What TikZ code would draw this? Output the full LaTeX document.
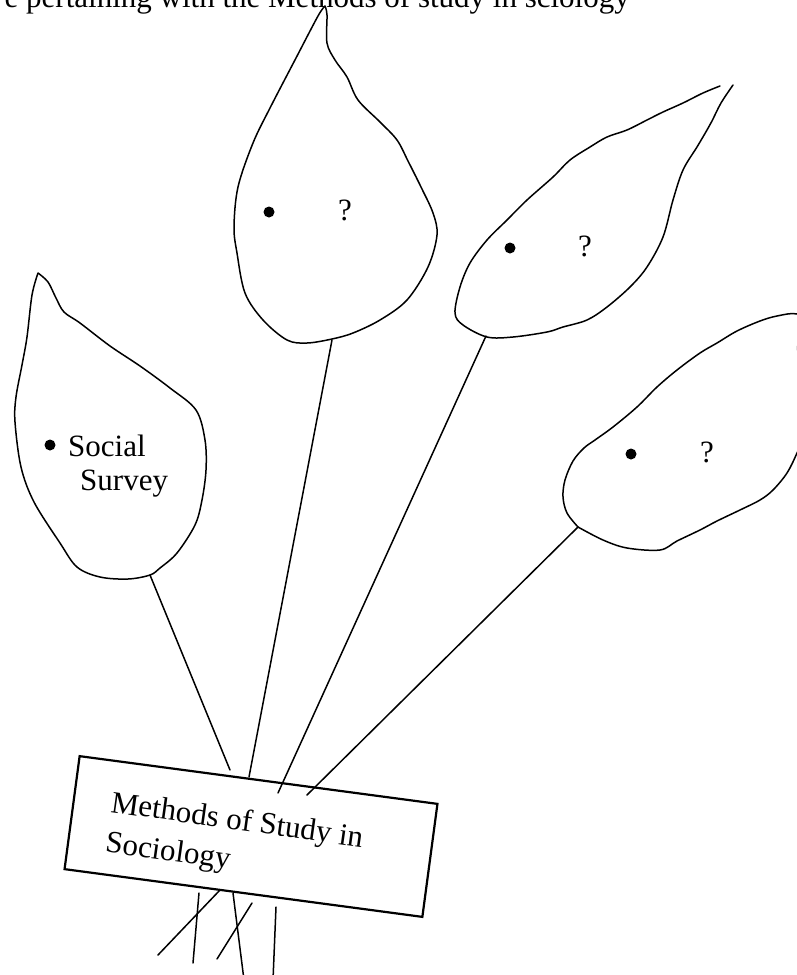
\documentclass[tikz,border=0pt]{standalone}
\usepackage{fontspec}
\setmainfont{Liberation Serif}
\begin{document}
\begin{tikzpicture}[x=1pt,y=-1pt,
  outline/.style={line width=1.5pt, line join=round, line cap=round},
  stalk/.style={line width=1.5pt, line cap=round},
  labelbox/.style={draw, line width=2.2pt, rectangle, inner sep=0pt},
  bigtext/.style={inner sep=0pt, font=\fontsize{31}{34}\selectfont},
  boxtext/.style={inner sep=0pt, font=\fontsize{31}{40}\selectfont, rotate=-8, align=left},
  seed/.style={circle, fill, inner sep=0pt, minimum size=11pt}
]
\useasboundingbox (0,0) rectangle (797,975);
\clip (0,0) rectangle (797,975);
\fill[white] (0,0) rectangle (797,975);

% heading line, cut by the top edge
\node[bigtext, anchor=base east] (heading) at (630,7) {e pertaining with the Methods of study in sciology};

% leaf 1 (Social Survey)
\draw[outline] plot[smooth, tension=0.55] coordinates {
  (38,273) (48,282) (56,298) (64,312) (80,323) (110,346) (140,366) (170,388)
  (196,410) (205,440) (206,470) (202,500) (195,525) (177,553) (160,568)
  (150,575) (128,579) (100,577) (77,567) (60,543) (34,502) (21,467) (15,422)
  (16,397) (22,365) (27,337) (32,295) (38,273)};

% leaf 2 (top middle)
\draw[outline] plot[smooth, tension=0.55] coordinates {
  (325,6) (327,15) (327,43) (335,60) (347,77) (358,100) (380,122) (397,140)
  (408,161) (421,187) (433,213) (437,235) (428,267) (407,300) (380,320)
  (353,333) (332,339) (307,343) (287,340) (263,320) (245,293) (237,253)
  (234,227) (238,187) (253,143) (270,108) (296,58) (318,16) (325,6)};

% leaf 3 (upper right), open at its tip
\draw[outline] plot[smooth, tension=0.55] coordinates {
  (720,86) (703,93) (683,103) (663,112) (647,120) (627,130) (607,137)
  (590,147) (570,160) (553,177) (527,200) (507,220) (487,240) (470,263)
  (460,287) (455,313) (463,325) (487,337) (513,337) (547,332) (563,327)
  (587,320) (607,307) (630,287) (647,267) (663,237) (673,200) (683,170)
  (697,147) (707,130) (712,121) (721,103) (733,85)};

% leaf 4 (lower right), running past the right edge
\draw[outline] plot[smooth, tension=0.55] coordinates {
  (578,527) (567,513) (563,497) (565,480) (573,461) (584,448) (595,440)
  (613,427) (637,407) (657,387) (677,370) (700,353) (717,343) (737,331)
  (760,321) (777,316) (797,314) (812,326) (797.5,347) (808,380) (806,430)
  (797,453) (787,473) (773,490) (760,500) (740,510) (717,521) (700,530)
  (677,541) (660,550) (627,548) (603,540) (578,527)};

% seeds and labels on the leaves
\node[seed] (seed1) at (50,445) {};
\node[bigtext, anchor=base west] (social) at (68,456) {Social};
\node[bigtext, anchor=base west] (survey) at (80,490) {Survey};

\node[seed] (seed2) at (269,212) {};
\node[bigtext] (q2) at (345,210) {?};

\node[seed] (seed3) at (510,248) {};
\node[bigtext] (q3) at (585,246) {?};

\node[seed] (seed4) at (631,454) {};
\node[bigtext] (q4) at (707,452) {?};

% label board; the base anchor of the two-line title sits on its last line
\node[labelbox, rotate=-7.6, minimum width=361pt, minimum height=114pt] (board) at (251,836.5) {};
\node[boxtext, anchor=base west] (title) at (104.4,851.6) {Methods of Study in\\Sociology};

% stalk ends
\coordinate (base1) at (150,575);
\coordinate (base2) at (332,340);
\coordinate (base3) at (486,336);
\coordinate (base4) at (578,527);
\coordinate (end1) at (230,770);
\coordinate (end2) at (249,777);
\coordinate (end3) at (278,793);
\coordinate (end4) at (307,795);

\draw[stalk] (base1) -- (end1);
\draw[stalk] (base2) -- (end2);
\draw[stalk] (base3) -- (end3);
\draw[stalk] (base4) -- (end4);

% stubs below the board
\coordinate (subA1) at (199,893); \coordinate (subA2) at (193,963);
\coordinate (subB1) at (220,890); \coordinate (subB2) at (158,955);
\coordinate (subC1) at (233,893); \coordinate (subC2) at (244,980);
\coordinate (subD1) at (252,903); \coordinate (subD2) at (217,959);
\coordinate (subE1) at (276,907); \coordinate (subE2) at (273,980);
\draw[stalk] (subA1) -- (subA2);
\draw[stalk] (subB1) -- (subB2);
\draw[stalk] (subC1) -- (subC2);
\draw[stalk] (subD1) -- (subD2);
\draw[stalk] (subE1) -- (subE2);
\end{tikzpicture}
\end{document}
